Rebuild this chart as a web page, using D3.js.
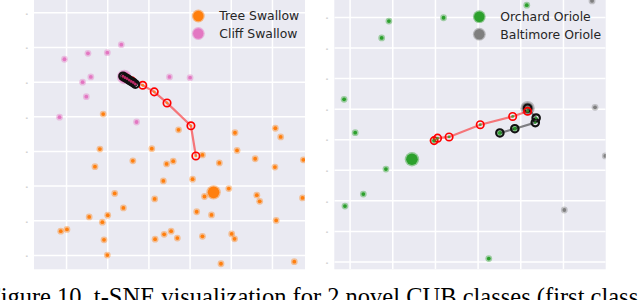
<!DOCTYPE html>
<html lang="en">
<head>
<meta charset="UTF-8" />
<title>t-SNE visualization</title>
<script src="https://d3js.org/d3.v7.min.js"></script>
<style>
    body { margin: 0; background: #fff; }
    svg { display: block; }
</style>
</head>
<body>
<script>
    // ---- data ----
    var leftTicksX = [-30, -20, -10, 0, 10, 20];
    var leftTicksY = [30, 20, 10, 0, -10, -20, -30, -40];
    var rightTicksX = [-20, -10, 0, 10, 20, 30];
    var rightTicksY = [40, 30, 20, 10, 0, -10, -20, -30, -40];

    var leftLegend = ["Tree Swallow", "Cliff Swallow"];
    var rightLegend = ["Orchard Oriole", "Baltimore Oriole"];

    var treeSwallow = [
        [-21.1, 0.8], [-2.8, -3.75], [10.9, -4.6], [20.7, -3.3], [22.0, -5.8],
        [-21.9, -9.3], [-9.3, -9.2], [-23.1, -14.4], [-13.9, -12.7], [-5.7, -13.6],
        [-4.1, -12.8], [3.0, -11.0], [7.1, -13.3], [11.4, -9.7], [15.8, -12.1],
        [20.6, -14.5], [27.5, -12.4], [-6.5, -18.5], [0.6, -18.0], [9.4, -20.7],
        [-18.3, -22.1], [-8.6, -23.7], [3.5, -23.0], [16.2, -22.6], [16.9, -24.4],
        [27.3, -23.4], [-16.2, -26.3], [1.6, -27.4], [5.2, -28.3], [-24.5, -28.9],
        [-20.0, -28.4], [-21.3, -30.4], [20.9, -29.9], [-31.4, -33.0], [-29.9, -32.5],
        [-20.9, -35.5], [-8.5, -35.3], [-6.3, -33.9], [-4.6, -33.0], [-3.1, -35.0],
        [3.0, -34.5], [10.1, -33.8], [10.8, -35.2], [-20.1, -39.9], [7.5, -42.4],
        [25.3, -41.8]
    ];
    var cliffSwallow = [
        [-30.5, 16.6], [-24.8, 18.3], [-20.1, 18.5], [-16.7, 20.8], [-26.1, 10.0],
        [-24.1, 11.5], [-25.2, 5.8], [-31.7, -0.1], [-13.0, -1.5], [-5.0, 11.5],
        [0.0, 11.3], [-16.6, 12.0], [-15.6, 11.0]
    ];
    var treeSwallowMean = [5.7, -21.8];
    var cliffSwallowMean = [-16.0, 11.5];
    var leftRedPath = [[-15.5, 11.2], [-14.2, 10.4], [-11.5, 9.1], [-8.7, 7.2], [-5.6, 4.0], [0.2, -2.6], [1.4, -11.3]];
    var leftBlackPath = [[-16.3, 11.7], [-15.8, 11.3], [-15.3, 11.0], [-14.8, 10.6], [-14.3, 10.2], [-13.8, 9.9], [-13.3, 9.4]];

    var orchardOriole = [
        [21.4, 44.0], [-10.9, 38.8], [1.9, 39.9], [-12.6, 33.3], [-21.4, 13.2],
        [-18.8, 2.3], [-11.6, -9.6], [-16.9, -17.8], [-21.2, -21.7], [12.5, -38.9],
        [-0.3, -0.3], [15.1, 2.2], [18.6, 3.6]
    ];
    var baltimoreOriole = [
        [36.7, 45.4], [37.4, 10.6], [39.8, -5.3], [30.2, -23.0], [21.0, 10.8], [22.2, 9.6]
    ];
    var orchardOrioleMean = [-5.5, -6.4];
    var baltimoreOrioleMean = [21.6, 10.3];
    var rightRedPath = [[-0.3, -0.3], [0.5, 0.5], [3.2, 0.9], [10.5, 4.9], [18.1, 7.6], [21.6, 9.3]];
    var rightBlackPath = [[15.1, 2.2], [18.6, 3.6], [23.4, 5.6], [23.6, 7.1], [21.6, 10.3]];

    var caption = "Figure 10. t-SNE visualization for 2 novel CUB classes (first class";

    // ---- layout ----
    var w = 640, h = 300;
    var bg = "#eaeaf2";

    var svg = d3.select("body").append("svg")
        .attr("width", w)
        .attr("height", h);

    function drawPanel(p) {
        var x = d3.scaleLinear().domain(p.xDomain).range([p.left, p.right]);
        var y = d3.scaleLinear().domain(p.yDomain).range([p.bottom, p.top]);

        var clipId = "clip-" + p.id;
        svg.append("clipPath").attr("id", clipId)
            .append("rect")
            .attr("x", p.left).attr("y", p.top)
            .attr("width", p.right - p.left).attr("height", p.bottom - p.top);

        svg.append("rect")
            .attr("x", p.left).attr("y", p.top)
            .attr("width", p.right - p.left).attr("height", p.bottom - p.top)
            .style("fill", bg);

        var g = svg.append("g").attr("clip-path", "url(#" + clipId + ")");

        // grid
        g.selectAll(".vgrid").data(p.xTicks).enter().append("line")
            .attr("x1", function (d) { return x(d); })
            .attr("x2", function (d) { return x(d); })
            .attr("y1", p.top).attr("y2", p.bottom)
            .style("stroke", "#fff").style("stroke-width", 1.5);
        g.selectAll(".hgrid").data(p.yTicks).enter().append("line")
            .attr("y1", function (d) { return y(d); })
            .attr("y2", function (d) { return y(d); })
            .attr("x1", p.left).attr("x2", p.right)
            .style("stroke", "#fff").style("stroke-width", 1.5);

        // remnants of the cropped tick labels
        var ax = svg.append("g")
            .attr("transform", "translate(" + p.left + ",0)")
            .call(d3.axisLeft(y).tickValues(p.yTicks).tickSize(0).tickPadding(6)
                .tickFormat(function () { return "-"; }));
        ax.select(".domain").remove();
        ax.selectAll("text")
            .style("font-family", "DejaVu Sans")
            .style("font-size", "7px")
            .style("fill", "#8a8a8a");

        // class samples
        p.classes.forEach(function (c) {
            var pts = g.append("g");
            pts.selectAll("circle.halo").data(c.points).enter().append("circle")
                .attr("cx", function (d) { return x(d[0]); })
                .attr("cy", function (d) { return y(d[1]); })
                .attr("r", 3.4)
                .style("fill", c.color).style("opacity", 0.4);
            pts.selectAll("circle.core").data(c.points).enter().append("circle")
                .attr("cx", function (d) { return x(d[0]); })
                .attr("cy", function (d) { return y(d[1]); })
                .attr("r", 1.9)
                .style("fill", c.color);
            g.append("circle")
                .attr("cx", x(c.mean[0])).attr("cy", y(c.mean[1]))
                .attr("r", 7.2).style("fill", c.color).style("opacity", 0.45);
            g.append("circle")
                .attr("cx", x(c.mean[0])).attr("cy", y(c.mean[1]))
                .attr("r", 5.8).style("fill", c.color);
        });

        // trajectories
        var line = d3.line()
            .x(function (d) { return x(d[0]); })
            .y(function (d) { return y(d[1]); });

        p.paths.forEach(function (t) {
            g.append("path")
                .attr("d", line(t.points))
                .style("fill", "none")
                .style("stroke", t.color)
                .style("stroke-width", 2.2)
                .style("opacity", 0.5);
            g.selectAll(null).data(t.points).enter().append("circle")
                .attr("cx", function (d) { return x(d[0]); })
                .attr("cy", function (d) { return y(d[1]); })
                .attr("r", 3.7)
                .style("fill", "none")
                .style("stroke", t.color)
                .style("stroke-width", t.width);
            g.selectAll(null).data(t.points).enter().append("circle")
                .attr("cx", function (d) { return x(d[0]); })
                .attr("cy", function (d) { return y(d[1]); })
                .attr("r", 1.4)
                .style("fill", t.inner)
                .style("opacity", 0.8);
        });

        // legend
        p.legend.forEach(function (name, i) {
            var ly = p.legendY + i * 17.5;
            svg.append("circle")
                .attr("cx", p.legendX).attr("cy", ly)
                .attr("r", 6.4).style("fill", p.classes[i].color).style("opacity", 0.5);
            svg.append("circle")
                .attr("cx", p.legendX).attr("cy", ly)
                .attr("r", 5.2).style("fill", p.classes[i].color);
            svg.append("text")
                .attr("x", p.legendX + 21)
                .attr("y", ly + 4.4)
                .style("font-family", "DejaVu Sans")
                .style("font-size", "12.4px")
                .style("fill", "#262626")
                .text(name);
        });
    }

    drawPanel({
        id: "left",
        left: 34, right: 305, top: 0, bottom: 269.3,
        xDomain: [-37.9, 27.9], yDomain: [-44.0, 33.7],
        xTicks: leftTicksX, yTicks: leftTicksY,
        classes: [
            { color: "#ff7f0e", points: treeSwallow, mean: treeSwallowMean },
            { color: "#e377c2", points: cliffSwallow, mean: cliffSwallowMean }
        ],
        paths: [
            { color: "#ff0000", inner: "#ff7f0e", width: 1.7, points: leftRedPath },
            { color: "#111", inner: "#e0307a", width: 2.2, points: leftBlackPath }
        ],
        legend: leftLegend, legendX: 198.3, legendY: 16
    });

    drawPanel({
        id: "right",
        left: 334.3, right: 605.7, top: 0, bottom: 269.3,
        xDomain: [-23.7, 39.9], yDomain: [-42.4, 45.7],
        xTicks: rightTicksX, yTicks: rightTicksY,
        classes: [
            { color: "#2ca02c", points: orchardOriole, mean: orchardOrioleMean },
            { color: "#7f7f7f", points: baltimoreOriole, mean: baltimoreOrioleMean }
        ],
        paths: [
            { color: "#111", inner: "#2ca02c", width: 2.2, points: rightBlackPath },
            { color: "#ff0000", inner: "#2ca02c", width: 1.7, points: rightRedPath }
        ],
        legend: rightLegend, legendX: 479.3, legendY: 16.7
    });

    // caption (cropped at the page edges)
    svg.append("text")
        .attr("x", -13)
        .attr("y", 304.5)
        .style("font-family", "Liberation Serif")
        .style("font-size", "24.5px")
        .style("fill", "#000")
        .text(caption);
</script>
</body>
</html>
